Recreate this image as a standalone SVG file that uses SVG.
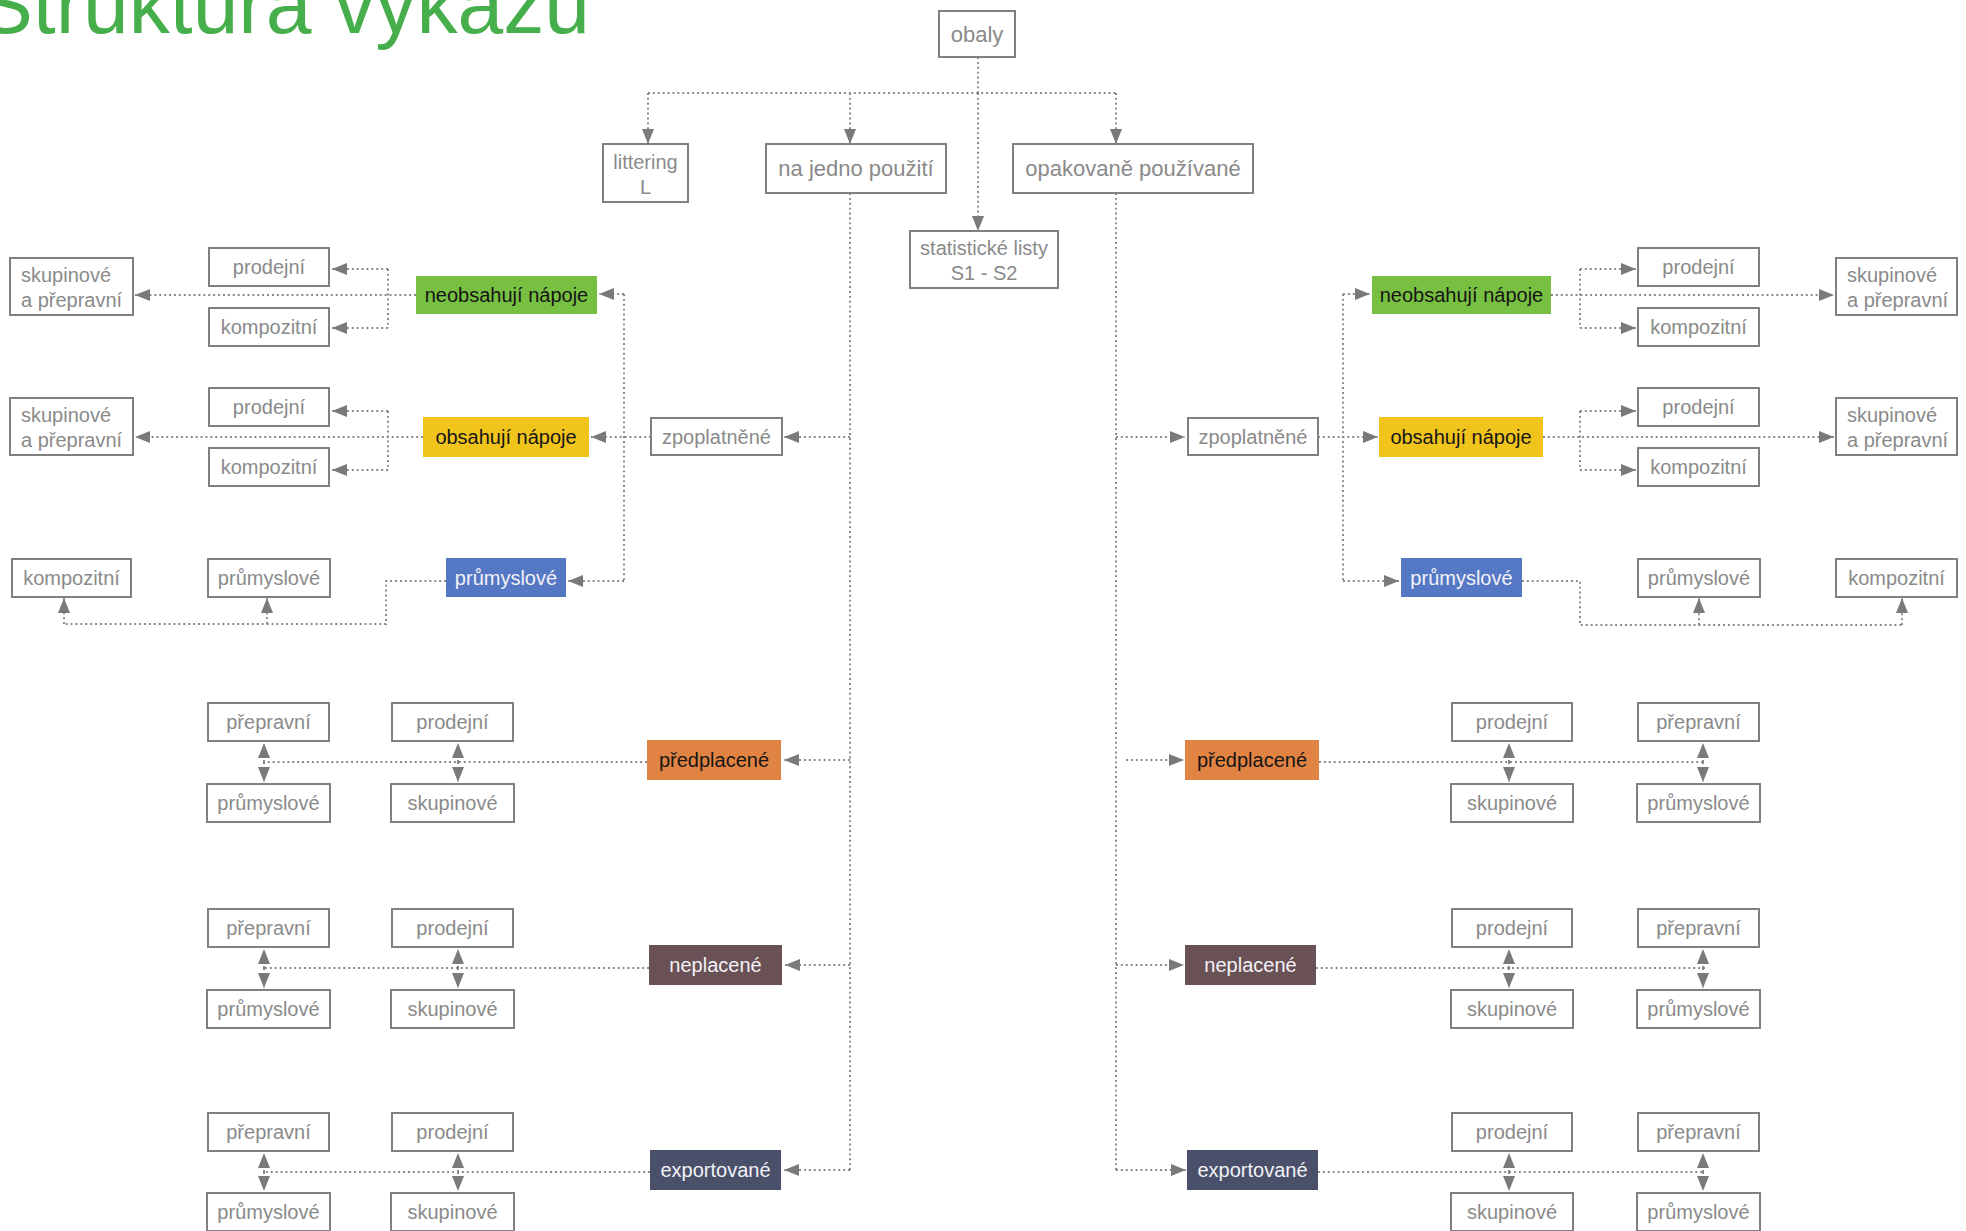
<svg xmlns="http://www.w3.org/2000/svg" width="1966" height="1231" viewBox="0 0 1966 1231">
<style>
.bx{fill:#fff;stroke:#808080;stroke-width:2}
.t{font-family:"Liberation Sans",Arial,sans-serif;font-size:20px;fill:#8a8a8a;text-anchor:middle}
.tl{font-family:"Liberation Sans",Arial,sans-serif;font-size:20px;fill:#8a8a8a}
.tb{font-family:"Liberation Sans",Arial,sans-serif;font-size:22px;fill:#8a8a8a;text-anchor:middle}
.ts{font-family:"Liberation Sans",Arial,sans-serif;font-size:20px;fill:#8a8a8a;text-anchor:middle}
.d{font-family:"Liberation Sans",Arial,sans-serif;font-size:20px;fill:#161616;text-anchor:middle}
.w{font-family:"Liberation Sans",Arial,sans-serif;font-size:20px;fill:#f2f2f7;text-anchor:middle}
.dl{fill:none;stroke:#858585;stroke-width:1.9;stroke-dasharray:1.9 3}
.ar{marker-end:url(#ah)}
</style>
<defs>
<marker id="ah" markerUnits="userSpaceOnUse" markerWidth="16" markerHeight="12" refX="15" refY="6" orient="auto">
<path d="M0,0 L15,6 L0,12 z" fill="#7a7a7a"/>
</marker>
</defs>
<text x="-22" y="33" font-family="'Liberation Sans',Arial,sans-serif" font-size="84" fill="#46ae4b" textLength="612" lengthAdjust="spacingAndGlyphs">Struktura výkazů</text>

<g id="connectors">
<path class="dl" d="M978,57 V93"/>
<path class="dl ar" d="M978,93 V231"/>
<path class="dl" d="M648,93 H1116"/>
<path class="dl ar" d="M648,93 V144"/>
<path class="dl ar" d="M850,93 V144"/>
<path class="dl ar" d="M1116,93 V144"/>
<path class="dl" d="M850,193 V1170"/>
<path class="dl" d="M1116,193 V1170"/>
<path class="dl ar" d="M850,437 H784"/>
<path class="dl ar" d="M651,437 H591"/>
<path class="dl" d="M624,294 V581"/>
<path class="dl ar" d="M624,294 H599"/>
<path class="dl ar" d="M624,581 H568"/>
<path class="dl ar" d="M416,295 H135"/>
<path class="dl" d="M388,269 V328"/>
<path class="dl ar" d="M388,269 H332"/>
<path class="dl ar" d="M388,328 H332"/>
<path class="dl ar" d="M423,437 H135"/>
<path class="dl" d="M388,411 V470"/>
<path class="dl ar" d="M388,411 H332"/>
<path class="dl ar" d="M388,470 H332"/>
<path class="dl" d="M446,581 H386 V624 H64"/>
<path class="dl ar" d="M64,624 V598"/>
<path class="dl ar" d="M267,624 V598"/>
<path class="dl ar" d="M850,760 H784"/>
<path class="dl" d="M647,762 H263"/>
<path class="dl ar" d="M264,762 V743"/><path class="dl ar" d="M264,762 V782"/>
<path class="dl ar" d="M458,762 V743"/><path class="dl ar" d="M458,762 V782"/>
<path class="dl ar" d="M850,965 H785"/>
<path class="dl" d="M649,968 H263"/>
<path class="dl ar" d="M264,968 V949"/><path class="dl ar" d="M264,968 V988"/>
<path class="dl ar" d="M458,968 V949"/><path class="dl ar" d="M458,968 V988"/>
<path class="dl ar" d="M850,1170 H784"/>
<path class="dl" d="M650,1172 H263"/>
<path class="dl ar" d="M264,1172 V1153"/><path class="dl ar" d="M264,1172 V1191"/>
<path class="dl ar" d="M458,1172 V1153"/><path class="dl ar" d="M458,1172 V1191"/>
<path class="dl ar" d="M1116,437 H1185"/>
<path class="dl ar" d="M1318,437 H1378"/>
<path class="dl" d="M1343,294 V581"/>
<path class="dl ar" d="M1343,294 H1370"/>
<path class="dl ar" d="M1343,581 H1399"/>
<path class="dl ar" d="M1551,295 H1834"/>
<path class="dl" d="M1580,269 V328"/>
<path class="dl ar" d="M1580,269 H1636"/>
<path class="dl ar" d="M1580,328 H1636"/>
<path class="dl ar" d="M1543,437 H1834"/>
<path class="dl" d="M1580,411 V470"/>
<path class="dl ar" d="M1580,411 H1636"/>
<path class="dl ar" d="M1580,470 H1636"/>
<path class="dl" d="M1522,581 H1580 V625 H1902"/>
<path class="dl ar" d="M1699,625 V598"/>
<path class="dl ar" d="M1902,625 V598"/>
<path class="dl ar" d="M1126,760 H1184"/>
<path class="dl" d="M1319,762 H1705"/>
<path class="dl ar" d="M1509,762 V743"/><path class="dl ar" d="M1509,762 V782"/>
<path class="dl ar" d="M1703,762 V743"/><path class="dl ar" d="M1703,762 V782"/>
<path class="dl ar" d="M1116,965 H1184"/>
<path class="dl" d="M1316,968 H1705"/>
<path class="dl ar" d="M1509,968 V949"/><path class="dl ar" d="M1509,968 V988"/>
<path class="dl ar" d="M1703,968 V949"/><path class="dl ar" d="M1703,968 V988"/>
<path class="dl ar" d="M1116,1170 H1186"/>
<path class="dl" d="M1318,1172 H1705"/>
<path class="dl ar" d="M1509,1172 V1153"/><path class="dl ar" d="M1509,1172 V1191"/>
<path class="dl ar" d="M1703,1172 V1153"/><path class="dl ar" d="M1703,1172 V1191"/>
</g>

<g id="obaly"><rect class="bx" x="939" y="11" width="76" height="46"/><text class="tb" x="977" y="42">obaly</text></g>
<g id="littering"><rect class="bx" x="603" y="144" width="85" height="58"/><text class="ts" x="645.5" y="169">littering</text><text class="ts" x="645.5" y="194">L</text></g>
<g id="na-jedno"><rect class="bx" x="766" y="144" width="180" height="49"/><text class="tb" x="856" y="176">na jedno použití</text></g>
<g id="opakovane"><rect class="bx" x="1013" y="144" width="240" height="49"/><text class="tb" x="1133" y="176">opakovaně používané</text></g>
<g id="statisticke"><rect class="bx" x="910" y="231" width="148" height="57"/><text class="ts" x="984" y="255">statistické listy</text><text class="ts" x="984" y="280">S1 - S2</text></g>

<g id="zpopl-l"><rect class="bx" x="651" y="418" width="131" height="37"/><text class="t" x="716.5" y="443.5">zpoplatněné</text></g>
<g id="neobs-l"><rect x="416" y="276" width="181" height="38" fill="#78c042"/><text class="d" x="506.5" y="302">neobsahují nápoje</text></g>
<g id="obs-l"><rect x="423" y="417" width="166" height="40" fill="#f1c41c"/><text class="d" x="506" y="444">obsahují nápoje</text></g>
<g id="prum-l"><rect x="446" y="558" width="120" height="39" fill="#5578c4"/><text class="w" x="506" y="584.5">průmyslové</text></g>
<g id="skup-l1"><rect class="bx" x="10" y="258" width="123" height="57"/><text class="tl" x="21" y="282">skupinové</text><text class="tl" x="21" y="307">a přepravní</text></g>
<g id="prod-l1"><rect class="bx" x="209" y="248" width="120" height="38"/><text class="t" x="269" y="274">prodejní</text></g>
<g id="komp-l1"><rect class="bx" x="209" y="308" width="120" height="38"/><text class="t" x="269" y="334">kompozitní</text></g>
<g id="skup-l2"><rect class="bx" x="10" y="398" width="123" height="57"/><text class="tl" x="21" y="422">skupinové</text><text class="tl" x="21" y="447">a přepravní</text></g>
<g id="prod-l2"><rect class="bx" x="209" y="388" width="120" height="38"/><text class="t" x="269" y="414">prodejní</text></g>
<g id="komp-l2"><rect class="bx" x="209" y="448" width="120" height="38"/><text class="t" x="269" y="474">kompozitní</text></g>
<g id="komp-l3"><rect class="bx" x="12" y="559" width="119" height="38"/><text class="t" x="71.5" y="585">kompozitní</text></g>
<g id="prum-l3"><rect class="bx" x="208" y="559" width="122" height="38"/><text class="t" x="269" y="585">průmyslové</text></g>

<g id="predpl-l"><rect x="647" y="740" width="134" height="40" fill="#e18343"/><text class="d" x="714" y="767">předplacené</text></g>
<g id="g1-prep-l"><rect class="bx" x="208" y="703" width="121" height="38"/><text class="t" x="268.5" y="729">přepravní</text></g>
<g id="g1-prod-l"><rect class="bx" x="392" y="703" width="121" height="38"/><text class="t" x="452.5" y="729">prodejní</text></g>
<g id="g1-prum-l"><rect class="bx" x="207" y="784" width="123" height="38"/><text class="t" x="268.5" y="810">průmyslové</text></g>
<g id="g1-skup-l"><rect class="bx" x="391" y="784" width="123" height="38"/><text class="t" x="452.5" y="810">skupinové</text></g>

<g id="nepl-l"><rect x="649" y="945" width="133" height="40" fill="#6a5155"/><text class="w" x="715.5" y="972">neplacené</text></g>
<g id="g2-prep-l"><rect class="bx" x="208" y="909" width="121" height="38"/><text class="t" x="268.5" y="935">přepravní</text></g>
<g id="g2-prod-l"><rect class="bx" x="392" y="909" width="121" height="38"/><text class="t" x="452.5" y="935">prodejní</text></g>
<g id="g2-prum-l"><rect class="bx" x="207" y="990" width="123" height="38"/><text class="t" x="268.5" y="1016">průmyslové</text></g>
<g id="g2-skup-l"><rect class="bx" x="391" y="990" width="123" height="38"/><text class="t" x="452.5" y="1016">skupinové</text></g>

<g id="exp-l"><rect x="650" y="1150" width="131" height="40" fill="#4a5069"/><text class="w" x="715.5" y="1177">exportované</text></g>
<g id="g3-prep-l"><rect class="bx" x="208" y="1113" width="121" height="38"/><text class="t" x="268.5" y="1139">přepravní</text></g>
<g id="g3-prod-l"><rect class="bx" x="392" y="1113" width="121" height="38"/><text class="t" x="452.5" y="1139">prodejní</text></g>
<g id="g3-prum-l"><rect class="bx" x="207" y="1193" width="123" height="38"/><text class="t" x="268.5" y="1219">průmyslové</text></g>
<g id="g3-skup-l"><rect class="bx" x="391" y="1193" width="123" height="38"/><text class="t" x="452.5" y="1219">skupinové</text></g>

<g id="zpopl-r"><rect class="bx" x="1188" y="418" width="130" height="37"/><text class="t" x="1253" y="443.5">zpoplatněné</text></g>
<g id="neobs-r"><rect x="1372" y="276" width="179" height="38" fill="#78c042"/><text class="d" x="1461.5" y="302">neobsahují nápoje</text></g>
<g id="obs-r"><rect x="1379" y="417" width="164" height="40" fill="#f1c41c"/><text class="d" x="1461" y="444">obsahují nápoje</text></g>
<g id="prum-r"><rect x="1401" y="558" width="121" height="39" fill="#5578c4"/><text class="w" x="1461.5" y="584.5">průmyslové</text></g>
<g id="prod-r1"><rect class="bx" x="1638" y="248" width="121" height="38"/><text class="t" x="1698.5" y="274">prodejní</text></g>
<g id="komp-r1"><rect class="bx" x="1638" y="308" width="121" height="38"/><text class="t" x="1698.5" y="334">kompozitní</text></g>
<g id="skup-r1"><rect class="bx" x="1836" y="258" width="121" height="57"/><text class="tl" x="1847" y="282">skupinové</text><text class="tl" x="1847" y="307">a přepravní</text></g>
<g id="prod-r2"><rect class="bx" x="1638" y="388" width="121" height="38"/><text class="t" x="1698.5" y="414">prodejní</text></g>
<g id="komp-r2"><rect class="bx" x="1638" y="448" width="121" height="38"/><text class="t" x="1698.5" y="474">kompozitní</text></g>
<g id="skup-r2"><rect class="bx" x="1836" y="398" width="121" height="57"/><text class="tl" x="1847" y="422">skupinové</text><text class="tl" x="1847" y="447">a přepravní</text></g>
<g id="prum-r3"><rect class="bx" x="1638" y="559" width="122" height="38"/><text class="t" x="1699" y="585">průmyslové</text></g>
<g id="komp-r3"><rect class="bx" x="1836" y="559" width="121" height="38"/><text class="t" x="1896.5" y="585">kompozitní</text></g>

<g id="predpl-r"><rect x="1185" y="740" width="134" height="40" fill="#e18343"/><text class="d" x="1252" y="767">předplacené</text></g>
<g id="g1-prod-r"><rect class="bx" x="1452" y="703" width="120" height="38"/><text class="t" x="1512" y="729">prodejní</text></g>
<g id="g1-skup-r"><rect class="bx" x="1451" y="784" width="122" height="38"/><text class="t" x="1512" y="810">skupinové</text></g>
<g id="g1-prep-r"><rect class="bx" x="1638" y="703" width="121" height="38"/><text class="t" x="1698.5" y="729">přepravní</text></g>
<g id="g1-prum-r"><rect class="bx" x="1637" y="784" width="123" height="38"/><text class="t" x="1698.5" y="810">průmyslové</text></g>

<g id="nepl-r"><rect x="1185" y="945" width="131" height="40" fill="#6a5155"/><text class="w" x="1250.5" y="972">neplacené</text></g>
<g id="g2-prod-r"><rect class="bx" x="1452" y="909" width="120" height="38"/><text class="t" x="1512" y="935">prodejní</text></g>
<g id="g2-skup-r"><rect class="bx" x="1451" y="990" width="122" height="38"/><text class="t" x="1512" y="1016">skupinové</text></g>
<g id="g2-prep-r"><rect class="bx" x="1638" y="909" width="121" height="38"/><text class="t" x="1698.5" y="935">přepravní</text></g>
<g id="g2-prum-r"><rect class="bx" x="1637" y="990" width="123" height="38"/><text class="t" x="1698.5" y="1016">průmyslové</text></g>

<g id="exp-r"><rect x="1187" y="1150" width="131" height="40" fill="#4a5069"/><text class="w" x="1252.5" y="1177">exportované</text></g>
<g id="g3-prod-r"><rect class="bx" x="1452" y="1113" width="120" height="38"/><text class="t" x="1512" y="1139">prodejní</text></g>
<g id="g3-skup-r"><rect class="bx" x="1451" y="1193" width="122" height="38"/><text class="t" x="1512" y="1219">skupinové</text></g>
<g id="g3-prep-r"><rect class="bx" x="1638" y="1113" width="121" height="38"/><text class="t" x="1698.5" y="1139">přepravní</text></g>
<g id="g3-prum-r"><rect class="bx" x="1637" y="1193" width="123" height="38"/><text class="t" x="1698.5" y="1219">průmyslové</text></g>
</svg>
